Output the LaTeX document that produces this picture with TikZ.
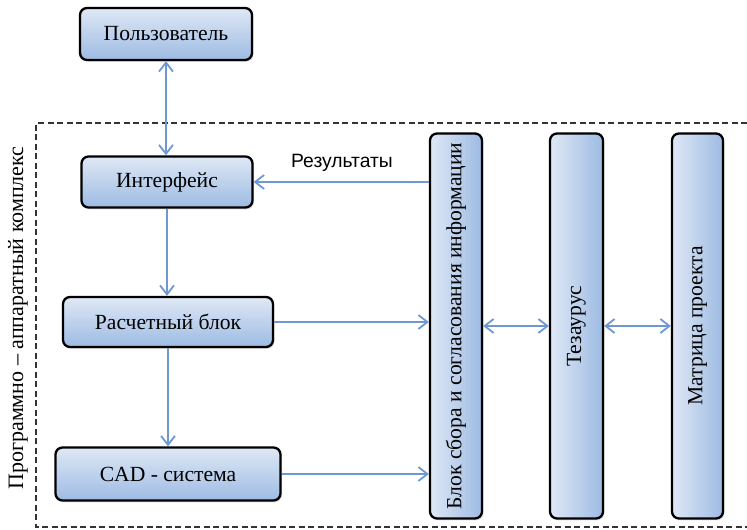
\documentclass[tikz,border=0pt]{standalone}
\usepackage{fontspec}
\setmainfont{Liberation Serif}
\newfontfamily\sansf{Liberation Sans}
\usepackage{graphicx}
\usetikzlibrary{arrows.meta,shadows}
\definecolor{bl}{HTML}{DFE8F5}
\definecolor{bd}{HTML}{9DBBE3}
\definecolor{ar}{HTML}{6F98D0}
\tikzset{
  boxbase/.style={draw=black, line width=2.3pt, rounded corners=7pt, inner sep=0pt,
    font=\fontsize{21.6}{24}\selectfont,
    drop shadow={shadow xshift=1.5pt, shadow yshift=-1.8pt, opacity=0.25}},
  hbox/.style={boxbase, top color=bl, bottom color=bd},
  vbox/.style={boxbase, left color=bl, right color=bd, minimum height=385pt},
  barb/.tip={Straight Barb[length=9pt,width=14pt,line width=1.8pt]},
  conn/.style={draw=ar, line width=1.8pt, -barb},
  connb/.style={draw=ar, line width=1.8pt, barb-barb}
}
\begin{document}
\begin{tikzpicture}[x=1pt,y=-1pt]
\useasboundingbox (0,0) rectangle (747,530);
% frame
\draw[draw=black!80, line width=1.1pt, dash pattern=on 6pt off 3.5pt] (747,123) -- (36,123) -- (36,527) -- (747,527);
\node[rotate=90, font=\fontsize{22}{24}\selectfont] (side) at (18,318) {Программно – аппаратный комплекс};
% boxes
\node[hbox, minimum width=172pt, minimum height=52pt] (user) at (166,34) {Пользователь};
\node[hbox, minimum width=171pt, minimum height=51pt] (inter) at (167,182) {Интерфейс};
\node[hbox, minimum width=210pt, minimum height=50pt] (rasch) at (168,322) {Расчетный блок};
\node[hbox, minimum width=225pt, minimum height=53pt] (cad) at (168,474) {CAD - система};
\node[vbox, minimum width=52pt] (blok) at (456,326) {\rotatebox{90}{Блок сбора и согласования информации}};
\node[vbox, minimum width=53pt] (tez) at (576.5,326) {\rotatebox{90}{Тезаурус}};
\node[vbox, minimum width=51pt] (mat) at (697.5,326) {\rotatebox{90}{Матрица проекта}};
% connectors
\draw[connb] (user.south) -- (user.south |- inter.north);
\draw[conn] (inter.south) -- (inter.south |- rasch.north);
\draw[conn] (rasch.south) -- (rasch.south |- cad.north);
\draw[conn] (blok.west |- inter.east) -- (inter.east);
\node[font=\sansf\fontsize{19.3}{21}\selectfont] (res) at (342,163) {Результаты};
\draw[conn] (rasch.east) -- (rasch.east -| blok.west);
\draw[conn] (cad.east) -- (cad.east -| blok.west);
\draw[connb] (blok.east) -- (tez.west);
\draw[connb] (tez.east) -- (mat.west);
\end{tikzpicture}
\end{document}
